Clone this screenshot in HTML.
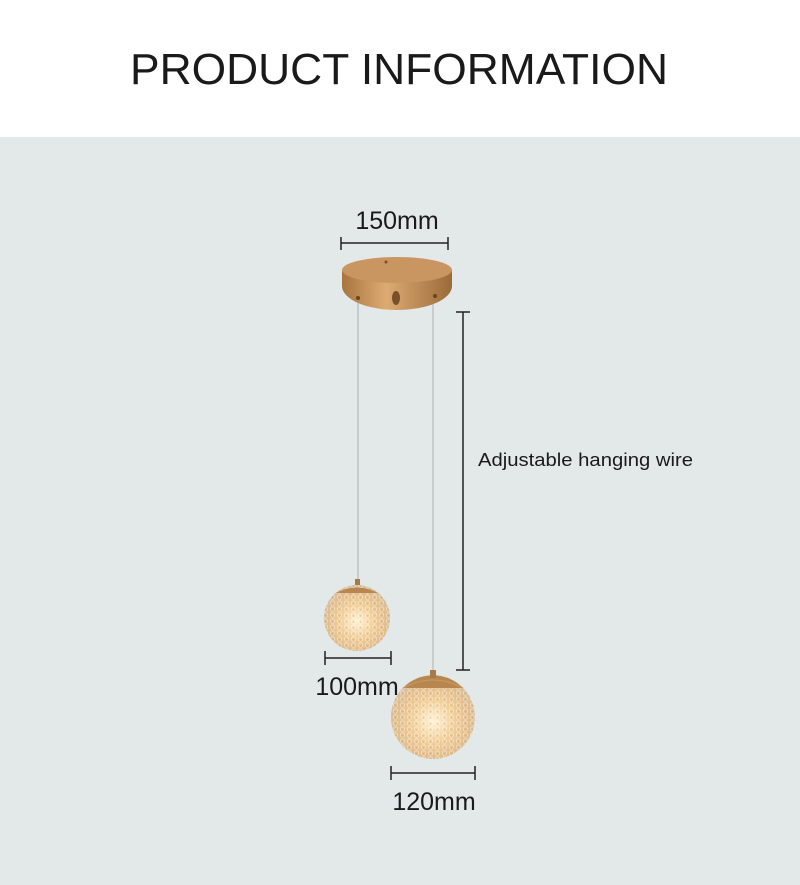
<!DOCTYPE html>
<html><head><meta charset="utf-8"><style>
html,body{margin:0;padding:0;width:800px;height:885px;overflow:hidden;background:#fff}
</style></head><body>
<svg width="800" height="885" viewBox="0 0 800 885" xmlns="http://www.w3.org/2000/svg" font-family="Liberation Sans, Arial, sans-serif">
<defs>
<radialGradient id="glass" cx="0.5" cy="0.55" r="0.55">
<stop offset="0" stop-color="#fff2d6"/><stop offset="0.45" stop-color="#f2cf98"/><stop offset="0.8" stop-color="#e2bd8c"/><stop offset="1" stop-color="#d6bfa2"/>
</radialGradient>
<linearGradient id="gold" x1="0" y1="0" x2="1" y2="0">
<stop offset="0" stop-color="#a8743f"/><stop offset="0.4" stop-color="#dcab72"/><stop offset="1" stop-color="#9a6a3a"/>
</linearGradient>
<pattern id="dots" width="7" height="6" patternUnits="userSpaceOnUse">
<circle cx="3.5" cy="3" r="2.2" fill="none" stroke="#fff" stroke-opacity="0.5" stroke-width="0.8"/>
<circle cx="3.5" cy="4" r="1" fill="#b07a3a" fill-opacity="0.25"/>
</pattern>
</defs>
<rect x="0" y="0" width="800" height="137" fill="#ffffff"/>
<rect x="0" y="137" width="800" height="748" fill="#e3e8e9"/>
<text x="130" y="84" font-size="44" fill="#1a1a1a" textLength="538" lengthAdjust="spacingAndGlyphs">PRODUCT INFORMATION</text>

<!-- 150mm -->
<text x="397" y="229" font-size="25" fill="#1a1a1a" text-anchor="middle">150mm</text>
<line x1="341" y1="243" x2="448" y2="243" stroke="#222" stroke-width="1.5"/>
<line x1="341" y1="237" x2="341" y2="250" stroke="#222" stroke-width="1.5"/>
<line x1="448" y1="237" x2="448" y2="250" stroke="#222" stroke-width="1.5"/>

<!-- wires -->
<line x1="358" y1="300" x2="358" y2="584" stroke="#b8b8b8" stroke-width="1.2"/>
<line x1="433" y1="300" x2="433" y2="673" stroke="#b8b8b8" stroke-width="1.2"/>

<!-- canopy -->
<path d="M342 270 L342 286 A55 24 0 0 0 452 286 L452 270 Z" fill="url(#gold)"/>
<ellipse cx="397" cy="270" rx="55" ry="13" fill="#c99560"/>
<circle cx="386" cy="262" r="1.5" fill="#7a5028"/>
<ellipse cx="396" cy="298" rx="4" ry="7" fill="#7a5028"/>
<circle cx="358" cy="298" r="2" fill="#6a4520"/>
<circle cx="435" cy="296" r="2" fill="#6a4520"/>

<!-- vertical dimension -->
<line x1="463" y1="312" x2="463" y2="670" stroke="#222" stroke-width="1.5"/>
<line x1="456" y1="312" x2="470" y2="312" stroke="#222" stroke-width="1.5"/>
<line x1="456" y1="670" x2="470" y2="670" stroke="#222" stroke-width="1.5"/>
<text x="478" y="466" font-size="18" fill="#1a1a1a" textLength="215" lengthAdjust="spacingAndGlyphs">Adjustable hanging wire</text>

<!-- small globe -->
<circle cx="357" cy="618" r="33" fill="url(#glass)"/>
<circle cx="357" cy="618" r="33" fill="url(#dots)"/>
<path d="M336 593 Q357 582 378 593 Z" fill="#b8874f"/>
<rect x="355" y="579" width="5" height="6" fill="#a87a48"/>
<line x1="325" y1="658" x2="391" y2="658" stroke="#222" stroke-width="1.5"/>
<line x1="325" y1="651" x2="325" y2="665" stroke="#222" stroke-width="1.5"/>
<line x1="391" y1="651" x2="391" y2="665" stroke="#222" stroke-width="1.5"/>
<text x="357" y="695" font-size="25" fill="#1a1a1a" text-anchor="middle">100mm</text>

<!-- large globe -->
<circle cx="433" cy="717" r="42" fill="url(#glass)"/>
<circle cx="433" cy="717" r="42" fill="url(#dots)"/>
<path d="M403 688 A42 42 0 0 1 463 688 Z" fill="#b8874f"/>
<path d="M403 688 Q433 672 463 688" fill="none" stroke="#c99a62"/>
<rect x="430" y="670" width="6" height="8" fill="#a87a48"/>
<line x1="391" y1="773" x2="475" y2="773" stroke="#222" stroke-width="1.5"/>
<line x1="391" y1="766" x2="391" y2="780" stroke="#222" stroke-width="1.5"/>
<line x1="475" y1="766" x2="475" y2="780" stroke="#222" stroke-width="1.5"/>
<text x="434" y="810" font-size="25" fill="#1a1a1a" text-anchor="middle">120mm</text>
</svg>
</body></html>
